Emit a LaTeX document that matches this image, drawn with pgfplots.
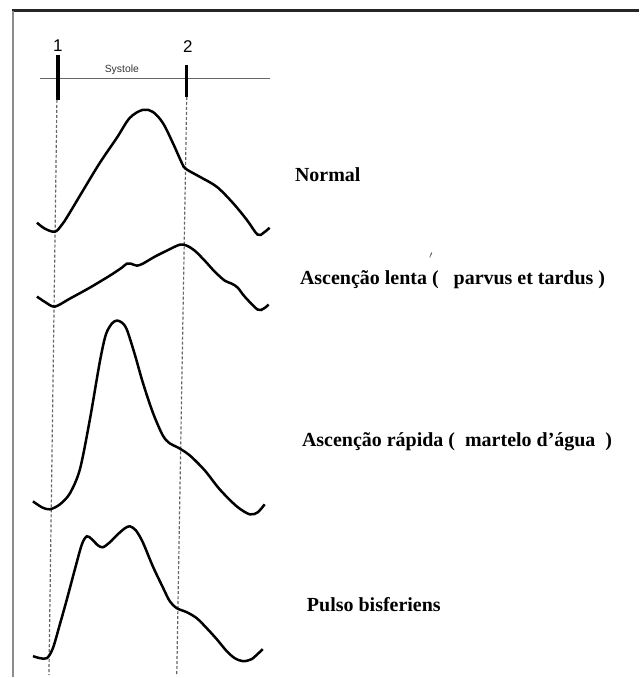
\documentclass[border=0pt]{standalone}
\usepackage{pgfplots}
\pgfplotsset{compat=1.18}
\usepackage{fontspec}
\setmainfont{Liberation Serif}
\newfontfamily\sansf{Liberation Sans}
\begin{document}
\begin{tikzpicture}
\begin{axis}[
  width=320pt, height=339pt, scale only axis,
  xmin=0, xmax=640, ymin=0, ymax=678, y dir=reverse,
  axis lines=none, ticks=none, clip=false,
]
\path (axis cs:0,0) rectangle (axis cs:640,678);
% frame
\addplot[black!85, line width=1.2pt] coordinates {(12,10.5) (640,10.5)};
\addplot[black!45, line width=0.9pt] coordinates {(13,11) (13,678)};
% top marker
\addplot[black!60, line width=0.5pt] coordinates {(40,79) (270,79)};
\addplot[black, line width=1.8pt] coordinates {(58,55) (58,100)};
\addplot[black, line width=1.6pt] coordinates {(187,65) (187,97)};
% dashed reference lines
\addplot[black!60, line width=0.6pt, dash pattern=on 1.5pt off 1pt] coordinates {(57,100) (49,676)};
\addplot[black!60, line width=0.6pt, dash pattern=on 1.5pt off 1pt] coordinates {(187,97) (177,676)};
% Normal
\addplot[black, line width=1.25pt, smooth, tension=0.55] coordinates {
(37,223) (45,229) (55,232) (62,225) (68,216) (83,191) (100,163) (117,138) (130,118) (143,110) (153,112) (163,123) (173,143) (182,163) (186,169) (200,177) (217,187) (233,203) (247,220) (258,235) (264,233) (270,228)};
% Ascencao lenta
\addplot[black, line width=1.25pt, smooth, tension=0.5] coordinates {
(37,297) (46,303) (55,307) (70,299) (90,288) (110,276) (122,268) (127,264) (131,264) (137,266) (143,264) (155,257) (167,251) (180,245) (187,246) (195,251) (205,261) (215,272) (225,281) (232,284) (238,288) (245,297) (258,310) (264,309) (269,305)};
% Ascencao rapida
\addplot[black, line width=1.25pt, smooth, tension=0.5] coordinates {
(33,502) (42,508) (50,510) (60,505) (70,494) (80,470) (90,420) (100,362) (106,335) (112,324) (117,321) (122,323) (127,330) (135,355) (143,383) (153,413) (163,436) (170,444) (178,448) (190,456) (205,471) (220,490) (237,507) (250,515) (258,513) (265,505)};
% Pulso bisferiens
\addplot[black, line width=1.25pt, smooth, tension=0.5] coordinates {
(33,657) (40,659) (47,659) (53,649) (60,625) (67,600) (75,570) (82,545) (87,537) (92,540) (98,546) (103,548) (110,543) (118,535) (125,529) (130,527) (136,531) (143,543) (153,567) (163,588) (170,602) (177,609) (187,613) (197,619) (207,629) (217,640) (227,652) (235,659) (243,662) (252,660) (263,650)};
% texts
\node[font=\sansf\fontsize{8.5}{9}\selectfont] at (axis cs:58,46) {1};
\node[font=\sansf\fontsize{8.5}{9}\selectfont] at (axis cs:188,47) {2};
\node[font=\sansf\fontsize{5.2}{6}\selectfont, text=black!80] at (axis cs:122,70) {Systole};
\node[anchor=west, font=\bfseries\fontsize{10}{11}\selectfont, inner sep=0pt] at (axis cs:295,175) {Normal};
\node[anchor=west, font=\bfseries\fontsize{10}{11}\selectfont, inner sep=0pt] at (axis cs:300,280) {Ascenção lenta~(~~~parvus et tardus~)};
\node[font=\fontsize{5}{5}\selectfont, text=black!70] at (axis cs:432,258) {$'$};
\node[anchor=west, font=\bfseries\fontsize{10}{11}\selectfont, inner sep=0pt] at (axis cs:302,442) {Ascenção rápida~(~~martelo d’água~~)};
\node[anchor=west, font=\bfseries\fontsize{10}{11}\selectfont, inner sep=0pt] at (axis cs:307,605) {Pulso bisferiens};
\end{axis}
\end{tikzpicture}
\end{document}
